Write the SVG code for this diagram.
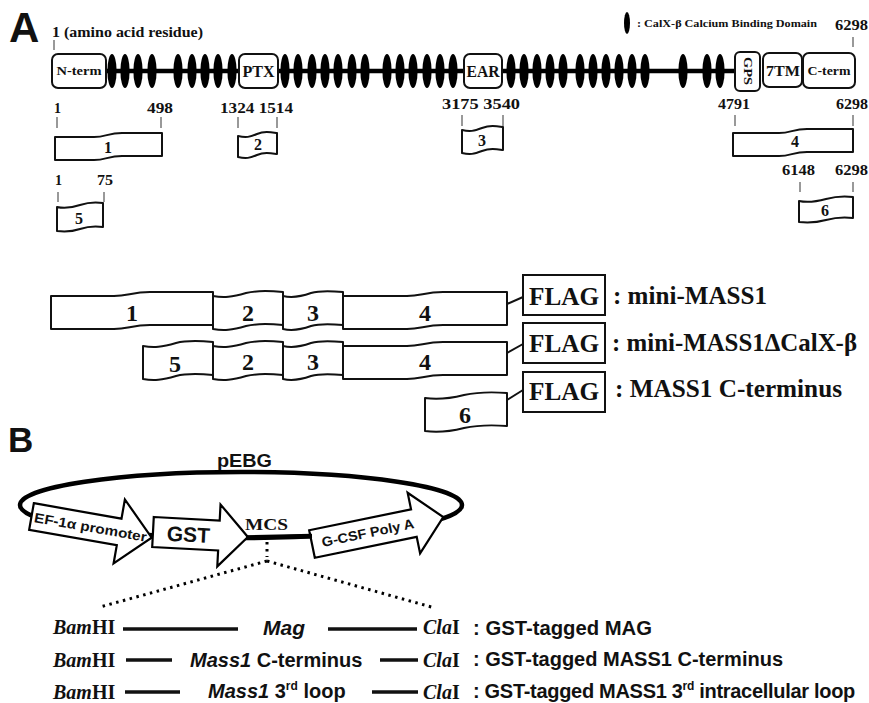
<svg xmlns="http://www.w3.org/2000/svg" width="869" height="703" viewBox="0 0 869 703">
<style>
.sb{font-family:"Liberation Serif","Times New Roman",serif;font-weight:bold;fill:#111}
.ss{font-family:"Liberation Sans",Arial,sans-serif;font-weight:bold;fill:#111}
.box{fill:#fff;stroke:#111;stroke-width:2}
.frag{fill:#fff;stroke:#111;stroke-width:2;stroke-linejoin:round}
.tick{stroke:#555;stroke-width:1.2}
.cb{fill:#000}
.arr{fill:#fff;stroke:#000;stroke-width:2.2;stroke-linejoin:miter}
.dot{fill:none;stroke:#000;stroke-width:3;stroke-dasharray:2.5 4.5}
.bar{stroke:#111;stroke-width:3.5}
</style>
<rect width="869" height="703" fill="#fff"/>

<!-- Panel labels -->
<text class="ss" x="9" y="42" font-size="42">A</text>
<text class="ss" x="8" y="452" font-size="35">B</text>

<!-- Full-length protein -->
<g id="protein">
  <text class="sb" x="52" y="37" font-size="14" textLength="151" lengthAdjust="spacingAndGlyphs">1 (amino acid residue)</text>
  <line class="tick" x1="54" y1="40" x2="54" y2="50"/>
  <text class="sb" x="835" y="30" font-size="14" textLength="33" lengthAdjust="spacingAndGlyphs">6298</text>
  <line class="tick" x1="853" y1="37" x2="853" y2="47"/>
  <line x1="100" y1="71" x2="740" y2="71" stroke="#000" stroke-width="4.5"/>
  <g id="calx-domains">
    <ellipse class="cb" cx="112" cy="71" rx="4.6" ry="17"/>
    <ellipse class="cb" cx="125" cy="71" rx="4.6" ry="17"/>
    <ellipse class="cb" cx="138" cy="71" rx="4.6" ry="17"/>
    <ellipse class="cb" cx="152" cy="71" rx="4.6" ry="17"/>
    <ellipse class="cb" cx="178" cy="71" rx="4.6" ry="17"/>
    <ellipse class="cb" cx="192" cy="71" rx="4.6" ry="17"/>
    <ellipse class="cb" cx="205" cy="71" rx="4.6" ry="17"/>
    <ellipse class="cb" cx="218" cy="71" rx="4.6" ry="17"/>
    <ellipse class="cb" cx="232" cy="71" rx="4.6" ry="17"/>
    <ellipse class="cb" cx="285" cy="71" rx="4.6" ry="17"/>
    <ellipse class="cb" cx="298" cy="71" rx="4.6" ry="17"/>
    <ellipse class="cb" cx="312" cy="71" rx="4.6" ry="17"/>
    <ellipse class="cb" cx="325" cy="71" rx="4.6" ry="17"/>
    <ellipse class="cb" cx="338" cy="71" rx="4.6" ry="17"/>
    <ellipse class="cb" cx="352" cy="71" rx="4.6" ry="17"/>
    <ellipse class="cb" cx="365" cy="71" rx="4.6" ry="17"/>
    <ellipse class="cb" cx="387" cy="71" rx="4.6" ry="17"/>
    <ellipse class="cb" cx="400" cy="71" rx="4.6" ry="17"/>
    <ellipse class="cb" cx="413" cy="71" rx="4.6" ry="17"/>
    <ellipse class="cb" cx="427" cy="71" rx="4.6" ry="17"/>
    <ellipse class="cb" cx="440" cy="71" rx="4.6" ry="17"/>
    <ellipse class="cb" cx="453" cy="71" rx="4.6" ry="17"/>
    <ellipse class="cb" cx="511" cy="71" rx="4.6" ry="17"/>
    <ellipse class="cb" cx="524" cy="71" rx="4.6" ry="17"/>
    <ellipse class="cb" cx="537" cy="71" rx="4.6" ry="17"/>
    <ellipse class="cb" cx="550" cy="71" rx="4.6" ry="17"/>
    <ellipse class="cb" cx="563" cy="71" rx="4.6" ry="17"/>
    <ellipse class="cb" cx="580" cy="71" rx="4.6" ry="17"/>
    <ellipse class="cb" cx="593" cy="71" rx="4.6" ry="17"/>
    <ellipse class="cb" cx="606" cy="71" rx="4.6" ry="17"/>
    <ellipse class="cb" cx="619" cy="71" rx="4.6" ry="17"/>
    <ellipse class="cb" cx="632" cy="71" rx="4.6" ry="17"/>
    <ellipse class="cb" cx="645" cy="71" rx="4.6" ry="17"/>
    <ellipse class="cb" cx="683" cy="71" rx="4.6" ry="17"/>
    <ellipse class="cb" cx="707" cy="71" rx="4.6" ry="17"/>
    <ellipse class="cb" cx="720" cy="71" rx="4.6" ry="17"/>
  </g>
  <g id="nterm"><rect class="box" x="52" y="54" width="54" height="34" rx="6"/>
    <text class="sb" x="79" y="75" font-size="13" text-anchor="middle" textLength="45" lengthAdjust="spacingAndGlyphs">N-term</text></g>
  <g id="ptx"><rect class="box" x="239" y="54" width="39" height="34" rx="6"/>
    <text class="sb" x="258.5" y="77" font-size="16" text-anchor="middle" textLength="32" lengthAdjust="spacingAndGlyphs">PTX</text></g>
  <g id="ear"><rect class="box" x="464" y="54" width="38" height="34" rx="6"/>
    <text class="sb" x="483" y="77" font-size="16" text-anchor="middle" textLength="33" lengthAdjust="spacingAndGlyphs">EAR</text></g>
  <g id="gps"><rect class="box" x="735" y="52" width="25" height="39" rx="5"/>
    <text class="sb" x="0" y="0" font-size="12" text-anchor="middle" textLength="28" lengthAdjust="spacingAndGlyphs" transform="translate(743.5,71) rotate(90)">GPS</text></g>
  <g id="tm7"><rect class="box" x="763" y="53" width="39" height="34" rx="6"/>
    <text class="sb" x="783" y="76" font-size="15" text-anchor="middle" textLength="34" lengthAdjust="spacingAndGlyphs">7TM</text></g>
  <g id="cterm"><rect class="box" x="803" y="53" width="52" height="35" rx="6"/>
    <text class="sb" x="829" y="75" font-size="13" text-anchor="middle" textLength="43" lengthAdjust="spacingAndGlyphs">C-term</text></g>
</g>

<g id="legend">
  <ellipse class="cb" cx="627" cy="23" rx="3" ry="11"/>
  <text class="sb" x="637" y="27" font-size="10" textLength="180" lengthAdjust="spacingAndGlyphs">: CalX-β Calcium Binding Domain</text>
</g>

<!-- Fragment positions -->
<g id="positions">
  <text class="sb" x="54" y="113" font-size="14">1</text>
  <text class="sb" x="147" y="113" font-size="14" textLength="26" lengthAdjust="spacingAndGlyphs">498</text>
  <text class="sb" x="220" y="113" font-size="14" textLength="73" lengthAdjust="spacingAndGlyphs">1324 1514</text>
  <text class="sb" x="442" y="109" font-size="14" textLength="78" lengthAdjust="spacingAndGlyphs">3175 3540</text>
  <text class="sb" x="718" y="109" font-size="14" textLength="32" lengthAdjust="spacingAndGlyphs">4791</text>
  <text class="sb" x="836" y="109" font-size="14" textLength="32" lengthAdjust="spacingAndGlyphs">6298</text>
  <line class="tick" x1="57" y1="117" x2="57" y2="128"/>
  <line class="tick" x1="161" y1="117" x2="161" y2="128"/>
  <line class="tick" x1="238" y1="117" x2="238" y2="128"/>
  <line class="tick" x1="277" y1="117" x2="277" y2="128"/>
  <line class="tick" x1="462" y1="115" x2="462" y2="126"/>
  <line class="tick" x1="503" y1="115" x2="503" y2="126"/>
  <line class="tick" x1="735" y1="115" x2="735" y2="126"/>
  <line class="tick" x1="853" y1="115" x2="853" y2="126"/>
  <text class="sb" x="55" y="185" font-size="14">1</text>
  <text class="sb" x="97" y="185" font-size="14" textLength="16" lengthAdjust="spacingAndGlyphs">75</text>
  <line class="tick" x1="58" y1="192" x2="58" y2="202"/>
  <line class="tick" x1="104" y1="192" x2="104" y2="202"/>
  <text class="sb" x="782" y="175" font-size="14" textLength="33" lengthAdjust="spacingAndGlyphs">6148</text>
  <text class="sb" x="835" y="175" font-size="14" textLength="33" lengthAdjust="spacingAndGlyphs">6298</text>
  <line class="tick" x1="800" y1="182" x2="800" y2="192"/>
  <line class="tick" x1="853" y1="182" x2="853" y2="192"/>
</g>

<!-- Fragments -->
<g id="frag1"><path class="frag" d="M55,137 L94,137 C106,137 108,133 122,133 L162,133 L162,156 L122,156 C108,156 106,160 94,160 L55,160 Z"/>
  <text class="sb" x="108" y="153" font-size="16" text-anchor="middle">1</text></g>
<g id="frag2"><path class="frag" d="M238,136 C246,138 250,137 257,134 C264,131 270,132 277,133 L277,154 C270,153 264,152 257,155 C250,158 246,159 238,157 Z"/>
  <text class="sb" x="258" y="150" font-size="16" text-anchor="middle">2</text></g>
<g id="frag3"><path class="frag" d="M462,130 C470,132 474,131 482,128 C490,125 496,126 503,127 L503,150 C496,149 490,148 482,151 C474,154 470,155 462,153 Z"/>
  <text class="sb" x="482" y="146" font-size="16" text-anchor="middle">3</text></g>
<g id="frag4"><path class="frag" d="M733,133 L779,133 C791,133 793,129 807,129 L853,129 L853,152 L807,152 C793,152 791,156 779,156 L733,156 Z"/>
  <text class="sb" x="795" y="147" font-size="16" text-anchor="middle">4</text></g>
<g id="frag5"><path class="frag" d="M57,207 C65,209 71,208 80,205 C89,202 96,202 103,203 L103,227 C96,226 89,226 80,229 C71,232 65,232 57,231 Z"/>
  <text class="sb" x="79" y="224" font-size="16" text-anchor="middle">5</text></g>
<g id="frag6"><path class="frag" d="M799,201 C808,203 815,202 826,199 C837,196 845,196 853,197 L853,218 C845,217 837,217 826,220 C815,223 808,223 799,222 Z"/>
  <text class="sb" x="825" y="216" font-size="16" text-anchor="middle">6</text></g>

<!-- Constructs -->
<g id="construct-mini-MASS1">
  <path class="frag" d="M51,296 L114,296 C128,296 132,292 150,292 L213,292 L213,325 L150,325 C132,325 128,329 114,329 L51,329 Z"/>
  <path class="frag" d="M213,296 C224,298 232,297 246,293 C258,290 272,291 283,292 L283,325 C272,324 258,323 246,326 C232,330 224,331 213,329 Z"/>
  <path class="frag" d="M283,296 C292,298 300,297 311,293 C321,290 333,291 343,292 L343,325 C333,324 321,323 311,326 C300,330 292,331 283,329 Z"/>
  <path class="frag" d="M343,296 L407,296 C421,296 425,292 443,292 L507,292 L507,325 L443,325 C425,325 421,329 407,329 L343,329 Z"/>
  <text class="sb" x="132" y="321" font-size="24" text-anchor="middle">1</text>
  <text class="sb" x="248" y="321" font-size="24" text-anchor="middle">2</text>
  <text class="sb" x="313" y="321" font-size="24" text-anchor="middle">3</text>
  <text class="sb" x="425" y="321" font-size="24" text-anchor="middle">4</text>
</g>
<g id="construct-dCalX">
  <path class="frag" d="M143,346 C154,348 162,347 176,343 C188,340 202,341 213,342 L213,375 C202,374 188,373 176,376 C162,380 154,381 143,379 Z"/>
  <path class="frag" d="M213,346 C224,348 232,347 246,343 C258,340 272,341 283,342 L283,375 C272,374 258,373 246,376 C232,380 224,381 213,379 Z"/>
  <path class="frag" d="M283,346 C292,348 300,347 311,343 C321,340 333,341 343,342 L343,375 C333,374 321,373 311,376 C300,380 292,381 283,379 Z"/>
  <path class="frag" d="M343,346 L407,346 C421,346 425,342 443,342 L507,342 L507,375 L443,375 C425,375 421,379 407,379 L343,379 Z"/>
  <text class="sb" x="175" y="372" font-size="24" text-anchor="middle">5</text>
  <text class="sb" x="248" y="370" font-size="24" text-anchor="middle">2</text>
  <text class="sb" x="313" y="370" font-size="24" text-anchor="middle">3</text>
  <text class="sb" x="425" y="370" font-size="24" text-anchor="middle">4</text>
</g>
<g id="construct-Cterm">
  <path class="frag" d="M425,398 C438,400 448,399 464,395 C478,392 494,392 507,393 L507,426 C494,425 478,425 464,428 C448,432 438,433 425,431 Z"/>
  <text class="sb" x="465" y="423" font-size="24" text-anchor="middle">6</text>
</g>

<g id="connectors" stroke="#111" stroke-width="2">
  <line x1="507" y1="304" x2="523" y2="297"/>
  <line x1="507" y1="353" x2="523" y2="344"/>
  <line x1="507" y1="400" x2="523" y2="390"/>
</g>

<g id="flag1"><rect x="523" y="275" width="82" height="40" fill="#fff" stroke="#111" stroke-width="2"/>
  <text class="sb" x="564" y="305" font-size="25" text-anchor="middle" textLength="70" lengthAdjust="spacingAndGlyphs">FLAG</text></g>
<g id="flag2"><rect x="523" y="323" width="82" height="40" fill="#fff" stroke="#111" stroke-width="2"/>
  <text class="sb" x="564" y="352" font-size="25" text-anchor="middle" textLength="70" lengthAdjust="spacingAndGlyphs">FLAG</text></g>
<g id="flag3"><rect x="523" y="372" width="82" height="40" fill="#fff" stroke="#111" stroke-width="2"/>
  <text class="sb" x="564" y="400" font-size="25" text-anchor="middle" textLength="70" lengthAdjust="spacingAndGlyphs">FLAG</text></g>
<text class="sb" x="613" y="304" font-size="25" textLength="154" lengthAdjust="spacingAndGlyphs">: mini-MASS1</text>
<text class="sb" x="612" y="351" font-size="25" textLength="245" lengthAdjust="spacingAndGlyphs">: mini-MASS1ΔCalX-β</text>
<text class="sb" x="615" y="397" font-size="25" textLength="227" lengthAdjust="spacingAndGlyphs">: MASS1 C-terminus</text>

<!-- Panel B plasmid -->
<g id="plasmid">
  <text class="ss" x="217" y="467" font-size="19" textLength="55" lengthAdjust="spacingAndGlyphs">pEBG</text>
  <ellipse cx="241" cy="505" rx="221" ry="33" fill="none" stroke="#000" stroke-width="4.5"/>
</g>
<g id="ef1a" transform="translate(31.5,516.5) rotate(10)">
  <path class="arr" d="M0,-13.5 L89,-13.5 L89,-33 L122,0 L89,32 L89,13.5 L0,13.5 Z"/>
  <text class="ss" x="3" y="5" font-size="13.5" textLength="114" lengthAdjust="spacingAndGlyphs">EF-1α promoter</text>
</g>
<g id="gst" transform="translate(153,532) rotate(3)">
  <path class="arr" d="M0,-15 L66,-15 L66,-31 L95,0 L66,31 L66,15 L0,15 Z"/>
  <text class="ss" x="14" y="8" font-size="21">GST</text>
</g>
<g id="gcsf" transform="translate(312,544) rotate(-11.6)">
  <path class="arr" d="M0,-14 L104,-14 L104,-31 L134,0 L104,31 L104,14 L0,14 Z"/>
  <text class="ss" x="10" y="5" font-size="13.5" textLength="94" lengthAdjust="spacingAndGlyphs">G-CSF Poly A</text>
</g>
<g id="mcs">
  <line x1="246" y1="537.5" x2="312" y2="536" stroke="#000" stroke-width="4.5"/>
  <text class="sb" x="245" y="530" font-size="16" font-weight="normal" textLength="43" lengthAdjust="spacingAndGlyphs">MCS</text>
</g>
<g id="zoom-lines">
  <path class="dot" d="M267,542 L267,557"/>
  <path class="dot" d="M267,561 L100,607"/>
  <path class="dot" d="M267,561 L435,608"/>
</g>

<!-- Inserts -->
<g id="insert-mag">
  <text class="sb" x="53" y="634" font-size="20"><tspan font-style="italic">Bam</tspan>HI</text>
  <line class="bar" x1="123" y1="629" x2="238" y2="629"/>
  <text class="ss" x="263" y="635" font-size="21" font-style="italic">Mag</text>
  <line class="bar" x1="328" y1="629" x2="417" y2="629"/>
  <text class="sb" x="423" y="634" font-size="20"><tspan font-style="italic">Cla</tspan>I</text>
  <text class="ss" x="473" y="635" font-size="20" textLength="179" lengthAdjust="spacingAndGlyphs">: GST-tagged MAG</text>
</g>
<g id="insert-cterm">
  <text class="sb" x="53" y="667" font-size="20"><tspan font-style="italic">Bam</tspan>HI</text>
  <line class="bar" x1="126" y1="660" x2="172" y2="660"/>
  <text class="ss" x="190" y="667" font-size="20"><tspan font-style="italic">Mass1</tspan> C-terminus</text>
  <line class="bar" x1="380" y1="660" x2="418" y2="660"/>
  <text class="sb" x="423" y="667" font-size="20"><tspan font-style="italic">Cla</tspan>I</text>
  <text class="ss" x="473" y="666" font-size="20" textLength="310" lengthAdjust="spacingAndGlyphs">: GST-tagged MASS1 C-terminus</text>
</g>
<g id="insert-loop">
  <text class="sb" x="53" y="699" font-size="20"><tspan font-style="italic">Bam</tspan>HI</text>
  <line class="bar" x1="125" y1="692" x2="180" y2="692"/>
  <text class="ss" x="208" y="698" font-size="20"><tspan font-style="italic">Mass1</tspan> 3<tspan font-size="12" dy="-8">rd</tspan><tspan dy="8"> loop</tspan></text>
  <line class="bar" x1="372" y1="692" x2="418" y2="692"/>
  <text class="sb" x="423" y="699" font-size="20"><tspan font-style="italic">Cla</tspan>I</text>
  <text class="ss" x="473" y="698" font-size="20" letter-spacing="-0.3">: GST-tagged MASS1 3<tspan font-size="12" dy="-8">rd</tspan><tspan dy="8"> intracellular loop</tspan></text>
</g>
</svg>
